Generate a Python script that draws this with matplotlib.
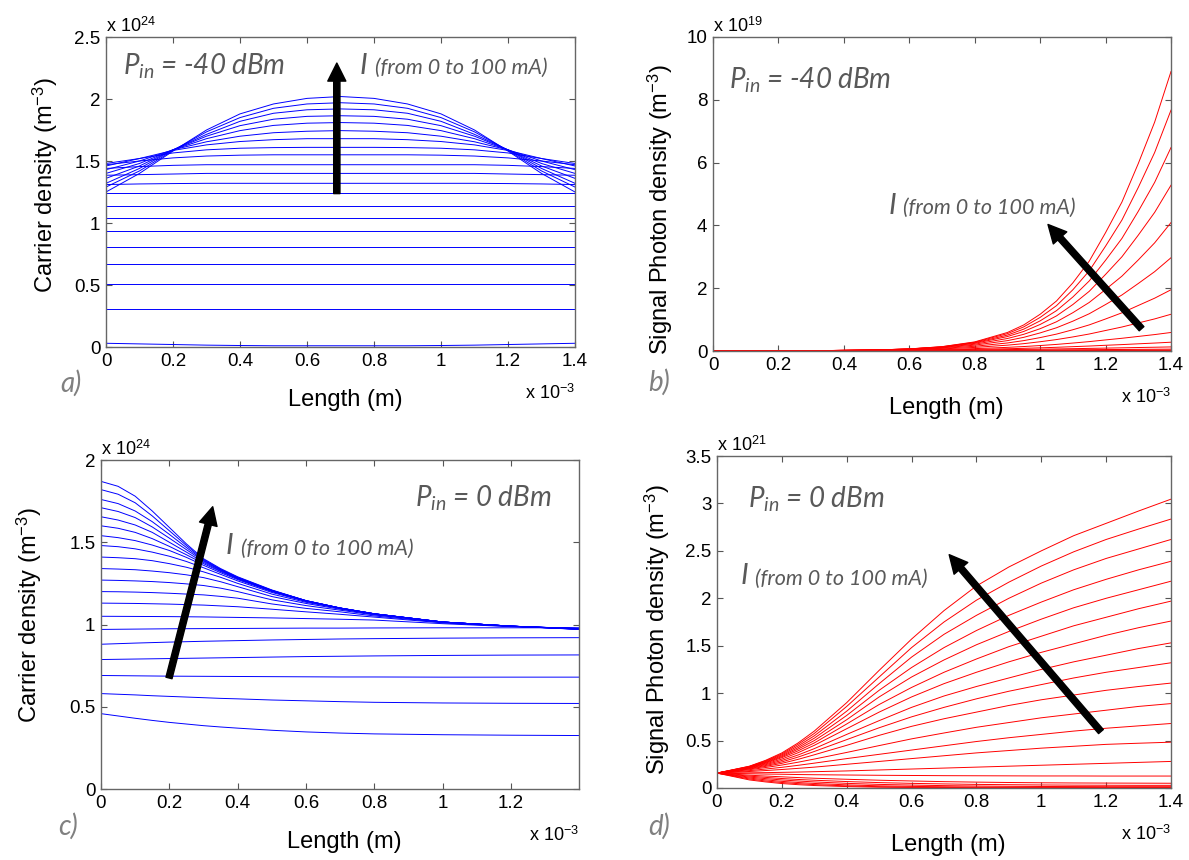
import matplotlib
matplotlib.use("Agg")
import matplotlib.pyplot as plt
from matplotlib.ticker import FuncFormatter

plt.rcParams['font.family'] = ['Liberation Sans', 'DejaVu Sans']
plt.rcParams['mathtext.fontset'] = 'custom'
plt.rcParams['mathtext.rm'] = 'Liberation Sans'
plt.rcParams['mathtext.it'] = 'Lato:italic'

# ---- a) carrier density, Pin = -40 dBm  (x 1e-3 m, y 1e24 m^-3)
length_a = [0, 0.1, 0.2, 0.3, 0.4, 0.5, 0.6, 0.7, 0.8, 0.9, 1.0, 1.1, 1.2, 1.3, 1.4]
carrier_a = [
    [0.03, 0.025, 0.02, 0.015, 0.012, 0.01, 0.01, 0.01, 0.01, 0.01, 0.012, 0.015, 0.02, 0.025, 0.03],
    [0.31] * 15,
    [0.51] * 15,
    [0.67] * 15,
    [0.81] * 15,
    [0.935] * 15,
    [1.04] * 15,
    [1.14] * 15,
    [1.24] * 15,
    [1.31, 1.315, 1.318, 1.32, 1.32, 1.32, 1.32, 1.32, 1.32, 1.32, 1.32, 1.32, 1.318, 1.315, 1.31],
    [1.385, 1.39, 1.395, 1.40, 1.40, 1.40, 1.40, 1.40, 1.40, 1.40, 1.40, 1.40, 1.395, 1.39, 1.385],
    [1.44, 1.455, 1.465, 1.47, 1.47, 1.47, 1.47, 1.47, 1.47, 1.47, 1.47, 1.47, 1.465, 1.455, 1.44],
    [1.47, 1.50, 1.525, 1.54, 1.547, 1.55, 1.55, 1.55, 1.55, 1.55, 1.547, 1.54, 1.525, 1.50, 1.47],
    [1.48, 1.52, 1.565, 1.59, 1.603, 1.608, 1.61, 1.61, 1.61, 1.608, 1.603, 1.59, 1.565, 1.52, 1.48],
    [1.46, 1.52, 1.585, 1.63, 1.657, 1.672, 1.68, 1.68, 1.68, 1.672, 1.657, 1.63, 1.585, 1.52, 1.46],
    [1.43, 1.50, 1.59, 1.655, 1.70, 1.728, 1.74, 1.745, 1.74, 1.728, 1.70, 1.655, 1.59, 1.50, 1.43],
    [1.40, 1.48, 1.59, 1.68, 1.745, 1.787, 1.805, 1.81, 1.805, 1.787, 1.745, 1.68, 1.59, 1.48, 1.40],
    [1.36, 1.46, 1.59, 1.70, 1.785, 1.837, 1.86, 1.865, 1.86, 1.837, 1.785, 1.70, 1.59, 1.46, 1.36],
    [1.32, 1.44, 1.59, 1.715, 1.82, 1.885, 1.913, 1.92, 1.913, 1.885, 1.82, 1.715, 1.59, 1.44, 1.32],
    [1.29, 1.42, 1.585, 1.735, 1.85, 1.925, 1.96, 1.97, 1.96, 1.925, 1.85, 1.735, 1.585, 1.42, 1.29],
    [1.25, 1.40, 1.58, 1.75, 1.88, 1.96, 2.005, 2.02, 2.005, 1.96, 1.88, 1.75, 1.58, 1.40, 1.25],
]

# ---- b) signal photon density, Pin = -40 dBm  (y 1e19 m^-3)
length_b = [0, 0.3, 0.5, 0.6, 0.7, 0.8, 0.9, 0.95, 1.0, 1.05, 1.1, 1.15, 1.2, 1.25, 1.3, 1.35, 1.4]
photon_b = [
    [0.002, 0.0015, 0.001, 0.001, 0.0008, 0.0007, 0.0006, 0.00055, 0.0005, 0.00045, 0.0004, 0.0004, 0.0004, 0.00035, 0.0003, 0.0003, 0.0003],
    [0.002, 0.0015, 0.0012, 0.0011, 0.001, 0.001, 0.0009, 0.00085, 0.0008, 0.0008, 0.0008, 0.00075, 0.0007, 0.0007, 0.0007, 0.00065, 0.0006],
    [0.002, 0.002, 0.0015, 0.0015, 0.0015, 0.0015, 0.0014, 0.00135, 0.0013, 0.00125, 0.0012, 0.00115, 0.0011, 0.00105, 0.001, 0.001, 0.001],
    [0.002] * 17,
    [0.002, 0.002, 0.002, 0.002, 0.003, 0.003, 0.003, 0.003, 0.003, 0.0035, 0.004, 0.004, 0.004, 0.004, 0.004, 0.004, 0.004],
    [0.002, 0.002, 0.003, 0.004, 0.004, 0.005, 0.005, 0.0055, 0.006, 0.006, 0.006, 0.0065, 0.007, 0.007, 0.007, 0.0075, 0.008],
    [0.002, 0.003, 0.005, 0.006, 0.007, 0.008, 0.009, 0.0095, 0.010, 0.0105, 0.011, 0.0115, 0.012, 0.013, 0.014, 0.0145, 0.015],
    [0.002, 0.003, 0.007, 0.009, 0.011, 0.013, 0.016, 0.017, 0.019, 0.020, 0.022, 0.023, 0.025, 0.026, 0.028, 0.029, 0.031],
    [0.002, 0.004, 0.011, 0.014, 0.017, 0.022, 0.027, 0.030, 0.033, 0.036, 0.039, 0.042, 0.046, 0.049, 0.053, 0.056, 0.06],
    [0.002, 0.005, 0.014, 0.018, 0.024, 0.033, 0.044, 0.051, 0.058, 0.066, 0.074, 0.083, 0.092, 0.101, 0.111, 0.12, 0.13],
    [0.002, 0.005, 0.017, 0.024, 0.035, 0.051, 0.072, 0.085, 0.101, 0.118, 0.138, 0.158, 0.182, 0.204, 0.229, 0.253, 0.28],
    [0.002, 0.006, 0.020, 0.031, 0.048, 0.076, 0.116, 0.142, 0.174, 0.210, 0.253, 0.299, 0.353, 0.405, 0.464, 0.523, 0.59],
    [0.002, 0.007, 0.025, 0.041, 0.068, 0.114, 0.186, 0.234, 0.295, 0.364, 0.448, 0.541, 0.653, 0.764, 0.893, 1.022, 1.17],
    [0.002, 0.008, 0.029, 0.049, 0.085, 0.15, 0.256, 0.331, 0.427, 0.538, 0.677, 0.831, 1.02, 1.216, 1.45, 1.682, 1.95],
    [0.002, 0.008, 0.031, 0.056, 0.101, 0.186, 0.33, 0.436, 0.576, 0.740, 0.95, 1.186, 1.48, 1.784, 2.15, 2.527, 2.97],
    [0.002, 0.008, 0.032, 0.060, 0.113, 0.216, 0.398, 0.532, 0.71, 0.931, 1.22, 1.546, 1.96, 2.384, 2.90, 3.444, 4.09],
    [0.002, 0.008, 0.033, 0.063, 0.124, 0.243, 0.46, 0.623, 0.845, 1.118, 1.48, 1.900, 2.44, 3.001, 3.69, 4.414, 5.28],
    [0.002, 0.008, 0.033, 0.064, 0.128, 0.261, 0.506, 0.697, 0.96, 1.285, 1.72, 2.230, 2.89, 3.586, 4.45, 5.370, 6.48],
    [0.002, 0.008, 0.033, 0.066, 0.135, 0.278, 0.553, 0.769, 1.07, 1.444, 1.95, 2.552, 3.34, 4.171, 5.21, 6.321, 7.67],
    [0.002, 0.008, 0.032, 0.066, 0.138, 0.29, 0.59, 0.831, 1.17, 1.593, 2.17, 2.860, 3.77, 4.744, 5.97, 7.289, 8.9],
]

# ---- c) carrier density, Pin = 0 dBm  (y 1e24 m^-3)
length_c = [0, 0.05, 0.1, 0.15, 0.2, 0.25, 0.3, 0.35, 0.4, 0.5, 0.6, 0.7, 0.8, 1.0, 1.2, 1.4]
carrier_c = [
    [0.458, 0.444, 0.43, 0.417, 0.405, 0.395, 0.385, 0.377, 0.37, 0.357, 0.347, 0.34, 0.335, 0.33, 0.327, 0.325],
    [0.58, 0.576, 0.572, 0.567, 0.563, 0.559, 0.555, 0.551, 0.548, 0.541, 0.536, 0.531, 0.527, 0.523, 0.521, 0.52],
    [0.69, 0.689, 0.688, 0.687, 0.686, 0.6855, 0.685, 0.6845, 0.684, 0.683, 0.682, 0.681, 0.681, 0.68, 0.68, 0.68],
    [0.787, 0.7885, 0.79, 0.7915, 0.793, 0.7945, 0.796, 0.7975, 0.799, 0.802, 0.805, 0.807, 0.809, 0.812, 0.814, 0.815],
    [0.88, 0.8835, 0.887, 0.89, 0.893, 0.8955, 0.898, 0.9, 0.902, 0.906, 0.909, 0.912, 0.914, 0.917, 0.919, 0.92],
    [0.97, 0.971, 0.972, 0.973, 0.974, 0.9745, 0.975, 0.9755, 0.976, 0.977, 0.978, 0.978, 0.979, 0.98, 0.98, 0.98],
    [1.05, 1.0495, 1.049, 1.0485, 1.048, 1.047, 1.046, 1.0445, 1.043, 1.04, 1.036, 1.032, 1.027, 1.005, 0.987, 0.977],
    [1.13, 1.129, 1.128, 1.126, 1.124, 1.121, 1.118, 1.113, 1.108, 1.093, 1.077, 1.062, 1.045, 1.01, 0.988, 0.976],
    [1.20, 1.199, 1.197, 1.194, 1.19, 1.185, 1.18, 1.171, 1.16, 1.125, 1.098, 1.077, 1.052, 1.012, 0.989, 0.975],
    [1.27, 1.268, 1.265, 1.261, 1.255, 1.247, 1.237, 1.221, 1.20, 1.15, 1.115, 1.087, 1.058, 1.014, 0.99, 0.975],
    [1.34, 1.337, 1.333, 1.325, 1.315, 1.302, 1.285, 1.26, 1.23, 1.17, 1.128, 1.093, 1.061, 1.015, 0.99, 0.974],
    [1.41, 1.406, 1.40, 1.388, 1.37, 1.348, 1.32, 1.287, 1.25, 1.185, 1.135, 1.097, 1.063, 1.015, 0.99, 0.974],
    [1.48, 1.473, 1.46, 1.44, 1.415, 1.383, 1.345, 1.305, 1.265, 1.195, 1.14, 1.099, 1.064, 1.015, 0.99, 0.973],
    [1.54, 1.528, 1.51, 1.483, 1.45, 1.408, 1.36, 1.315, 1.273, 1.20, 1.142, 1.10, 1.065, 1.015, 0.99, 0.973],
    [1.60, 1.585, 1.56, 1.522, 1.475, 1.424, 1.37, 1.322, 1.277, 1.203, 1.143, 1.10, 1.065, 1.015, 0.99, 0.972],
    [1.655, 1.635, 1.605, 1.56, 1.50, 1.44, 1.378, 1.326, 1.28, 1.205, 1.144, 1.10, 1.065, 1.015, 0.99, 0.972],
    [1.71, 1.687, 1.65, 1.593, 1.525, 1.455, 1.385, 1.33, 1.283, 1.206, 1.145, 1.10, 1.065, 1.015, 0.99, 0.972],
    [1.76, 1.735, 1.69, 1.625, 1.548, 1.468, 1.39, 1.333, 1.285, 1.207, 1.145, 1.10, 1.065, 1.015, 0.99, 0.971],
    [1.82, 1.792, 1.74, 1.66, 1.57, 1.48, 1.395, 1.336, 1.287, 1.208, 1.145, 1.10, 1.065, 1.015, 0.99, 0.971],
    [1.87, 1.84, 1.78, 1.69, 1.59, 1.49, 1.40, 1.34, 1.29, 1.21, 1.145, 1.10, 1.065, 1.015, 0.99, 0.97],
]

# ---- d) signal photon density, Pin = 0 dBm  (y 1e21 m^-3)
length_d = [0, 0.1, 0.15, 0.2, 0.25, 0.3, 0.4, 0.5, 0.6, 0.7, 0.8, 0.9, 1.0, 1.1, 1.2, 1.3, 1.4]
photon_d = [
    [0.157, 0.085, 0.064, 0.047, 0.035, 0.026, 0.015, 0.008, 0.005, 0.003, 0.002, 0.0015, 0.001, 0.001, 0.001, 0.001, 0.001],
    [0.157, 0.095, 0.074, 0.058, 0.046, 0.036, 0.022, 0.014, 0.009, 0.006, 0.004, 0.003, 0.0025, 0.002, 0.002, 0.002, 0.002],
    [0.157, 0.105, 0.086, 0.07, 0.058, 0.048, 0.033, 0.023, 0.017, 0.013, 0.010, 0.008, 0.007, 0.0065, 0.006, 0.006, 0.006],
    [0.157, 0.115, 0.099, 0.085, 0.074, 0.064, 0.049, 0.038, 0.031, 0.025, 0.021, 0.018, 0.016, 0.015, 0.014, 0.014, 0.014],
    [0.157, 0.125, 0.112, 0.10, 0.09, 0.082, 0.068, 0.057, 0.049, 0.043, 0.038, 0.035, 0.032, 0.030, 0.029, 0.028, 0.028],
    [0.157, 0.135, 0.126, 0.118, 0.11, 0.103, 0.092, 0.082, 0.074, 0.067, 0.062, 0.058, 0.055, 0.053, 0.052, 0.051, 0.05],
    [0.157, 0.15, 0.147, 0.145, 0.142, 0.14, 0.137, 0.134, 0.132, 0.13, 0.129, 0.128, 0.127, 0.127, 0.126, 0.126, 0.126],
    [0.157, 0.16, 0.162, 0.165, 0.168, 0.172, 0.18, 0.19, 0.20, 0.21, 0.22, 0.23, 0.24, 0.25, 0.26, 0.27, 0.28],
    [0.157, 0.174, 0.184, 0.195, 0.207, 0.22, 0.25, 0.28, 0.31, 0.34, 0.37, 0.395, 0.42, 0.44, 0.46, 0.472, 0.483],
    [0.157, 0.183, 0.2, 0.218, 0.239, 0.262, 0.31, 0.355, 0.40, 0.445, 0.49, 0.53, 0.565, 0.60, 0.63, 0.655, 0.68],
    [0.157, 0.193, 0.216, 0.242, 0.272, 0.305, 0.375, 0.447, 0.518, 0.58, 0.64, 0.69, 0.74, 0.78, 0.82, 0.86, 0.89],
    [0.157, 0.20, 0.228, 0.26, 0.302, 0.35, 0.45, 0.555, 0.65, 0.73, 0.80, 0.87, 0.93, 0.98, 1.03, 1.07, 1.106],
    [0.157, 0.205, 0.237, 0.275, 0.326, 0.385, 0.51, 0.635, 0.75, 0.85, 0.94, 1.02, 1.09, 1.16, 1.22, 1.27, 1.32],
    [0.157, 0.21, 0.246, 0.29, 0.348, 0.415, 0.565, 0.71, 0.85, 0.97, 1.07, 1.16, 1.25, 1.33, 1.40, 1.47, 1.53],
    [0.157, 0.214, 0.254, 0.305, 0.372, 0.45, 0.625, 0.80, 0.96, 1.10, 1.22, 1.33, 1.43, 1.52, 1.61, 1.69, 1.76],
    [0.157, 0.217, 0.262, 0.32, 0.392, 0.475, 0.675, 0.88, 1.06, 1.22, 1.36, 1.49, 1.60, 1.71, 1.80, 1.89, 1.97],
    [0.157, 0.22, 0.268, 0.33, 0.41, 0.50, 0.72, 0.96, 1.17, 1.35, 1.51, 1.65, 1.78, 1.90, 2.00, 2.09, 2.18],
    [0.157, 0.222, 0.274, 0.34, 0.426, 0.525, 0.765, 1.03, 1.27, 1.48, 1.66, 1.82, 1.96, 2.09, 2.20, 2.30, 2.39],
    [0.157, 0.225, 0.28, 0.35, 0.443, 0.55, 0.81, 1.10, 1.38, 1.62, 1.82, 2.00, 2.16, 2.30, 2.42, 2.52, 2.62],
    [0.157, 0.228, 0.286, 0.36, 0.46, 0.575, 0.86, 1.17, 1.48, 1.75, 1.98, 2.17, 2.34, 2.49, 2.62, 2.73, 2.835],
    [0.157, 0.23, 0.292, 0.37, 0.475, 0.60, 0.90, 1.24, 1.57, 1.87, 2.13, 2.33, 2.50, 2.66, 2.79, 2.92, 3.045],
]

GRAY = '#595959'
W, H = 1189, 860

fig = plt.figure(figsize=(W / 100, H / 100), dpi=100)


def make_axes(l, t, r, b):
    # pixel box -> figure fractions
    return fig.add_axes([l / W, 1 - b / H, (r - l) / W, (b - t) / H])


def style(ax, xlim, xticks, ylim, yticks, exp_y, ylabel, lab_x, lab_y, xlab_y, hpx):
    ax.set_xlim(*xlim)
    ax.set_ylim(*ylim)
    ax.set_xticks(xticks)
    ax.set_yticks(yticks)
    fmt = FuncFormatter(lambda v, p: f"{v:g}")
    ax.xaxis.set_major_formatter(fmt)
    ax.yaxis.set_major_formatter(fmt)
    ax.tick_params(direction='in', top=True, right=True, length=4, width=0.8,
                   color='#555555', labelsize=13.5, pad=4)
    for s in ax.spines.values():
        s.set_color('#666666')
        s.set_linewidth(1.0)
    ax.set_ylabel(ylabel, fontsize=17)
    ax.yaxis.set_label_coords(lab_x, lab_y)
    ax.set_xlabel('Length (m)', fontsize=17)
    ax.xaxis.set_label_coords(0.51, xlab_y)
    ax.text(0.0, 1.0 + 5 / hpx, 'x 10$^{%s}$' % exp_y, transform=ax.transAxes,
            ha='left', va='baseline', fontsize=13)
    ax.text(1.0, -46 / hpx, 'x 10$^{-3}$', transform=ax.transAxes,
            ha='right', va='center', fontsize=13)


def arrow(ax, tail, tip):
    ax.annotate('', xy=tip, xytext=tail,
                arrowprops=dict(width=4.5, headwidth=13, headlength=13,
                                color='black', shrink=0))


def notes(ax, pin, px, py, ix, iy, gap):
    ax.text(px, py, r'$P_{in}$ = %s dBm' % pin, fontsize=20, color=GRAY,
            family='Lato', style='italic', va='baseline')
    ax.text(ix, iy, 'I', fontsize=21, color=GRAY, family='Lato',
            style='italic', va='baseline')
    ax.text(ix + gap, iy, '(from 0 to 100 mA)', fontsize=15.5, color=GRAY,
            family='Lato', style='italic', va='baseline')


ticks_x = [0, 0.2, 0.4, 0.6, 0.8, 1.0, 1.2, 1.4]

# a)
ax_a = make_axes(106, 37, 575, 347)
for row in carrier_a:
    ax_a.plot(length_a, row, color='#0000ff', lw=0.7)
style(ax_a, (0, 1.4), ticks_x, (0, 2.5), [0, 0.5, 1, 1.5, 2, 2.5], '24',
      'Carrier density (m$^{-3}$)', -0.098, 0.523, -0.135, 310)
arrow(ax_a, (0.689, 1.237), (0.689, 2.29))
notes(ax_a, '-40', 0.05, 2.2, 0.757, 2.2, 0.045)

# b)
ax_b = make_axes(713, 37, 1171, 351)
for row in photon_b:
    ax_b.plot(length_b, row, color='#ff0000', lw=0.7)
style(ax_b, (0, 1.4), ticks_x, (0, 10), [0, 2, 4, 6, 8, 10], '19',
      'Signal Photon density (m$^{-3}$)', -0.083, 0.449, -0.145, 314)
arrow(ax_b, (1.31, 0.71), (1.024, 4.03))
notes(ax_b, '-40', 0.05, 8.37, 0.536, 4.36, 0.046)

# c)
ax_c = make_axes(101, 460, 579, 789)
for row in carrier_c:
    ax_c.plot(length_c, row, color='#0000ff', lw=0.7)
style(ax_c, (0, 1.399), ticks_x[:-1], (0, 2), [0, 0.5, 1, 1.5, 2], '24',
      'Carrier density (m$^{-3}$)', -0.119, 0.529, -0.128, 329)
arrow(ax_c, (0.199, 0.675), (0.327, 1.716))
notes(ax_c, '0', 0.919, 1.716, 0.366, 1.426, 0.044)

# d)
ax_d = make_axes(717, 456, 1171, 788)
for row in photon_d:
    ax_d.plot(length_d, row, color='#ff0000', lw=0.7)
style(ax_d, (0, 1.4), ticks_x, (0, 3.5), [0, 0.5, 1, 1.5, 2, 2.5, 3, 3.5], '21',
      'Signal Photon density (m$^{-3}$)', -0.099, 0.476, -0.14, 332)
arrow(ax_d, (1.184, 0.595), (0.716, 2.46))
notes(ax_d, '0', 0.095, 2.96, 0.072, 2.146, 0.046)

for lab, x, y in [('a)', 60, 383), ('b)', 648, 382), ('c)', 58, 826), ('d)', 648, 826)]:
    fig.text(x / W, 1 - y / H, lab, fontsize=20, color='#808080',
             family='Lato', style='italic', va='center')

fig.savefig('out.png', dpi=100)
